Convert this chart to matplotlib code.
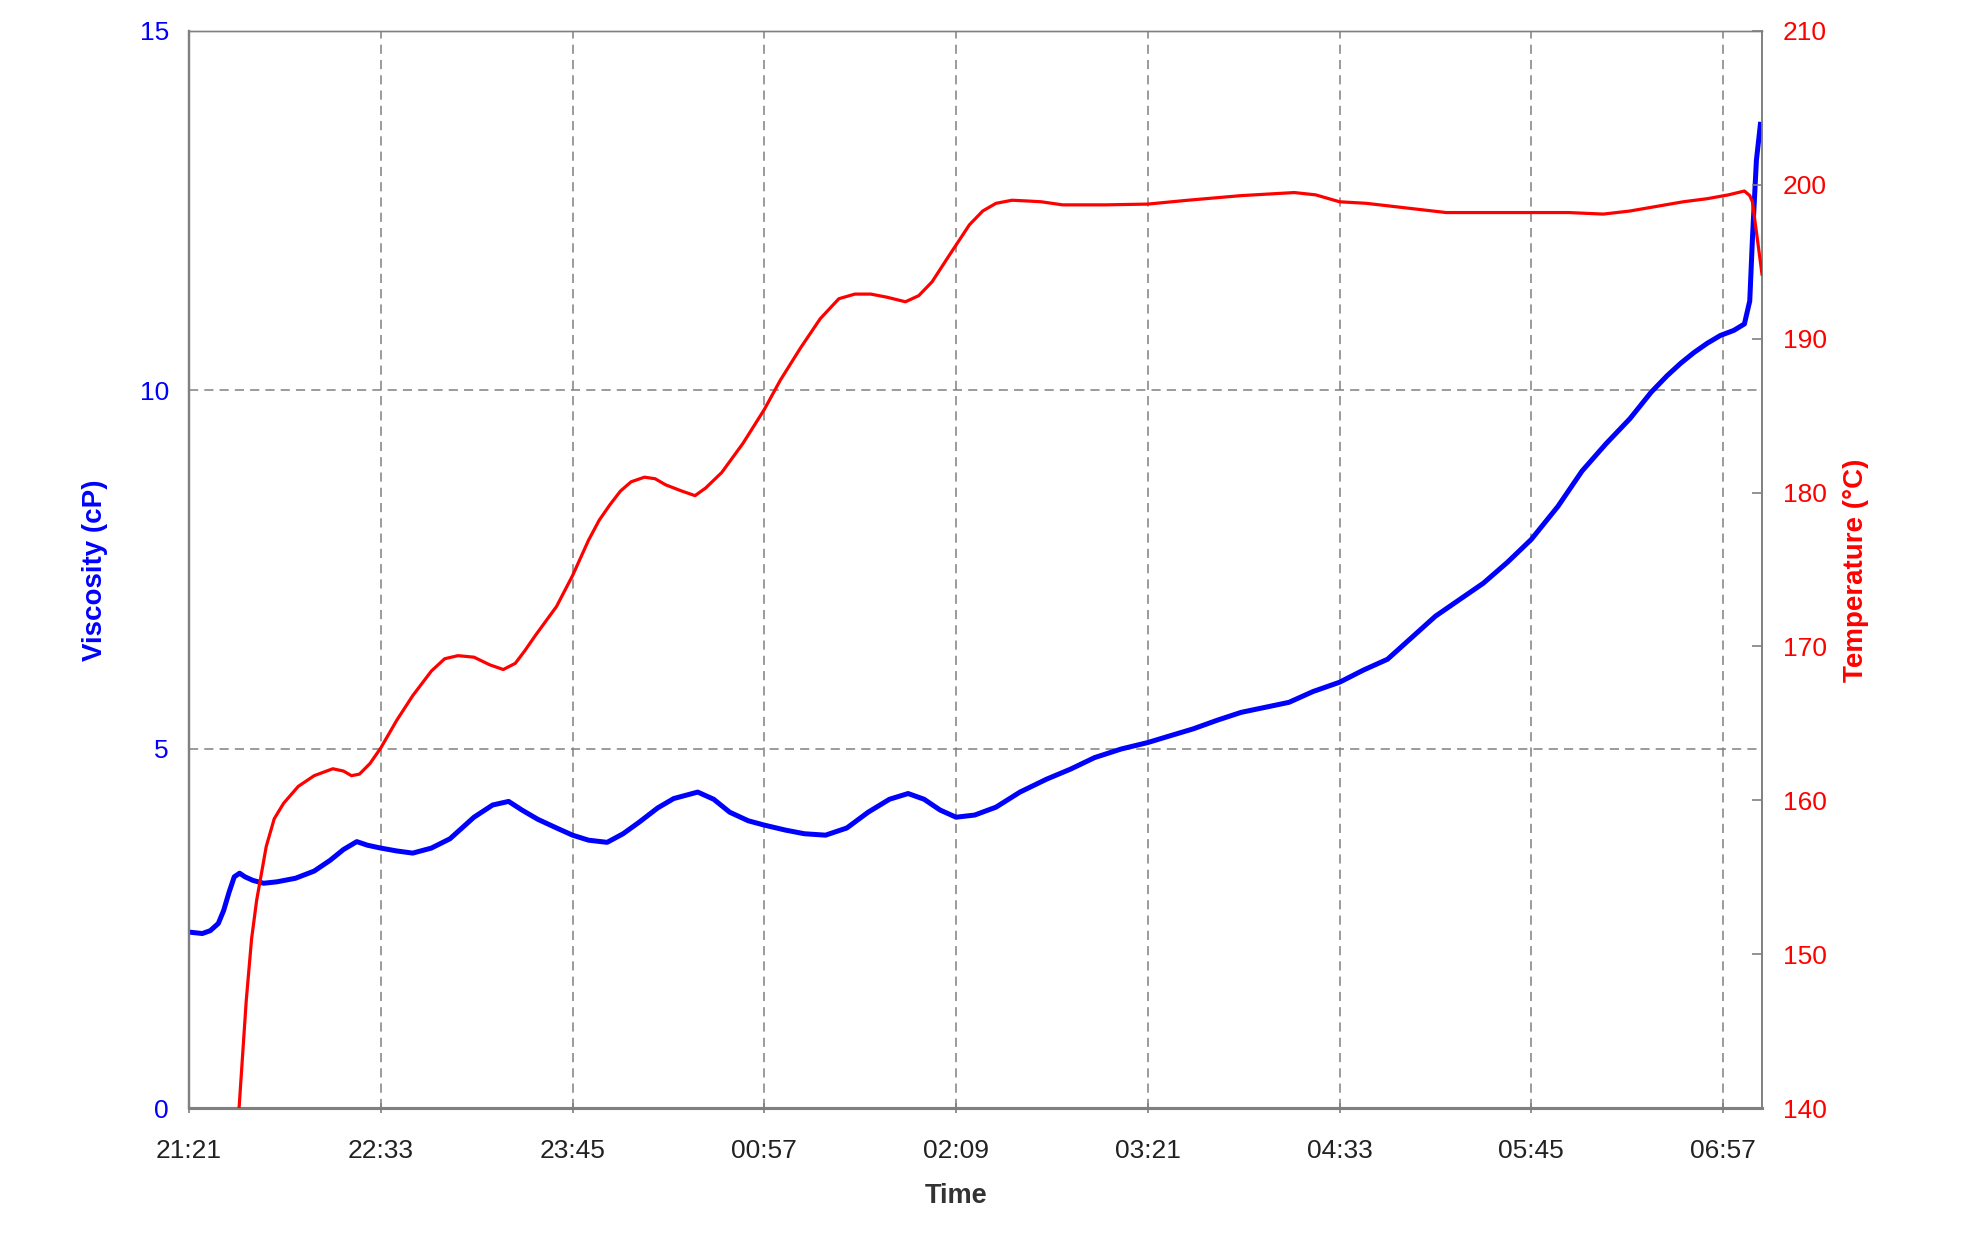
import matplotlib
matplotlib.use("Agg")
import matplotlib.pyplot as plt
from matplotlib.ticker import FixedLocator, FuncFormatter

# ---- data (minutes after 21:21) ----
visc_t = [0, 5, 8, 11, 13, 15, 17, 19, 21, 24, 28, 33, 40, 47, 53, 58, 63, 67, 72, 78, 84, 91, 98,
          107, 114, 120, 125, 131, 138, 144, 150, 157, 163, 169, 176, 182, 191, 197, 203, 210, 216,
          224, 231, 239, 247, 255, 263, 270, 276, 282, 288, 295, 303, 312, 322, 331, 340, 350, 360,
          368, 377, 386, 395, 404, 413, 422, 432, 441, 450, 459, 468, 477, 486, 495, 504, 514, 523,
          532, 541, 549, 555, 560, 565, 570, 575, 580, 584, 586, 587, 588.5, 590]
visc_v = [2.45, 2.43, 2.47, 2.57, 2.75, 3.0, 3.22, 3.27, 3.22, 3.17, 3.13, 3.15, 3.2, 3.3, 3.45, 3.6,
          3.71, 3.66, 3.62, 3.58, 3.55, 3.62, 3.75, 4.05, 4.22, 4.27, 4.15, 4.02, 3.9, 3.8, 3.73, 3.70,
          3.82, 3.98, 4.18, 4.31, 4.40, 4.3, 4.12, 4.0, 3.94, 3.87, 3.82, 3.80, 3.9, 4.12, 4.3, 4.38,
          4.3, 4.15, 4.05, 4.08, 4.19, 4.4, 4.58, 4.72, 4.88, 5.0, 5.09, 5.18, 5.28, 5.4, 5.51, 5.58,
          5.65, 5.8, 5.93, 6.1, 6.25, 6.55, 6.85, 7.08, 7.31, 7.6, 7.92, 8.38, 8.87, 9.25, 9.6, 9.97,
          10.2, 10.37, 10.52, 10.65, 10.76, 10.83, 10.92, 11.24, 12.1, 13.2, 13.7]

temp_t = [18.8, 21.5, 23.5, 25.4, 29, 32, 35.5, 41, 47, 54, 58, 61, 64, 68, 72, 78, 84, 91, 96, 101,
          107, 113, 118, 122.5, 126, 130, 138, 144, 150, 154, 158, 162, 166, 171, 175, 179, 185, 190,
          194, 200, 208, 216, 222, 229.6, 237, 244, 250, 256, 262, 269, 274, 279, 285, 293, 298, 303,
          309, 315, 320, 328, 344, 360, 375, 395, 405, 415, 423, 432, 442, 452, 462, 472, 491, 504,
          518, 531, 541, 551, 561, 570, 578, 584, 586, 587, 590.6]
temp_v = [140, 147, 151, 153.5, 157, 158.8, 159.8, 160.9, 161.6, 162.05, 161.9, 161.6, 161.7, 162.4,
          163.4, 165.2, 166.8, 168.4, 169.2, 169.4, 169.3, 168.8, 168.5, 168.9, 169.7, 170.7, 172.6,
          174.6, 176.9, 178.2, 179.2, 180.1, 180.7, 181.0, 180.9, 180.5, 180.1, 179.8, 180.3, 181.3,
          183.2, 185.4, 187.3, 189.4, 191.3, 192.6, 192.9, 192.9, 192.7, 192.4, 192.8, 193.7, 195.3,
          197.4, 198.3, 198.8, 199.0, 198.95, 198.9, 198.7, 198.7, 198.75, 199.0, 199.3, 199.4, 199.5,
          199.35, 198.9, 198.8, 198.6, 198.4, 198.2, 198.2, 198.2, 198.2, 198.1, 198.3, 198.6, 198.9,
          199.1, 199.35, 199.6, 199.3, 198.9, 194.2]

x_ticks = [0, 72, 144, 216, 288, 360, 432, 504, 576]
x_start_min = 21 * 60 + 21
visc_ticks = [0, 5, 10, 15]
temp_ticks = [140, 150, 160, 170, 180, 190, 200, 210]

# ---- style ----
plt.rcParams['font.family'] = ['Liberation Sans', 'DejaVu Sans']
GRAY = '#808080'
W, H = 1961, 1234
fig = plt.figure(figsize=(W / 100, H / 100), dpi=100)
L, R, T, B = 189, 1762, 31, 1108
ax = fig.add_axes([L / W, 1 - B / H, (R - L) / W, (B - T) / H])
ax2 = ax.twinx()

ax.plot(visc_t, visc_v, color='#0000FF', lw=3.6, solid_joinstyle='round', zorder=3)
ax2.plot(temp_t, temp_v, color='#FF0000', lw=2.3, solid_joinstyle='round', zorder=3)

ax.set_xlim(0, 590.6)
ax.set_ylim(0, 15)
ax2.set_ylim(140, 210)

ax.xaxis.set_major_locator(FixedLocator(x_ticks))
def fmt_time(v, pos):
    m = int(round(x_start_min + v)) % (24 * 60)
    return f"{m // 60:02d}:{m % 60:02d}"
ax.xaxis.set_major_formatter(FuncFormatter(fmt_time))
ax.yaxis.set_major_locator(FixedLocator(visc_ticks))
ax2.yaxis.set_major_locator(FixedLocator(temp_ticks))

ax.grid(True, color=GRAY, lw=1.1, linestyle=(0, (6, 4)), zorder=0)
ax.set_axisbelow(True)

ax.tick_params(axis='x', direction='inout', length=7, width=1.2, color=GRAY,
               labelsize=19, labelcolor='#222222', pad=18.5)
ax.tick_params(axis='y', length=0, labelsize=19, labelcolor='#0000FF', pad=14.5)
ax2.tick_params(axis='y', direction='in', length=7, width=1.2, color=GRAY,
                labelsize=19, labelcolor='#FF0000', pad=15)

for a in (ax, ax2):
    for s in a.spines.values():
        s.set_color(GRAY)
    a.spines['bottom'].set_linewidth(2.2)
    a.spines['left'].set_linewidth(1.6)
    a.spines['right'].set_linewidth(1.2)
    a.spines['top'].set_linewidth(1.0)

fig.text(95 / W, 1 - 570 / H, 'Viscosity (cP)', rotation=90, ha='center', va='center',
         fontsize=20, fontweight='bold', color='#0000FF')
fig.text(1856 / W, 1 - 570 / H, 'Temperature (°C)', rotation=90, ha='center', va='center',
         fontsize=20, fontweight='bold', color='#FF0000')
fig.text(956 / W, 1 - 1196 / H, 'Time', ha='center', va='center',
         fontsize=19.5, fontweight='bold', color='#333333')

fig.savefig('out.png', dpi=100, facecolor='white')
